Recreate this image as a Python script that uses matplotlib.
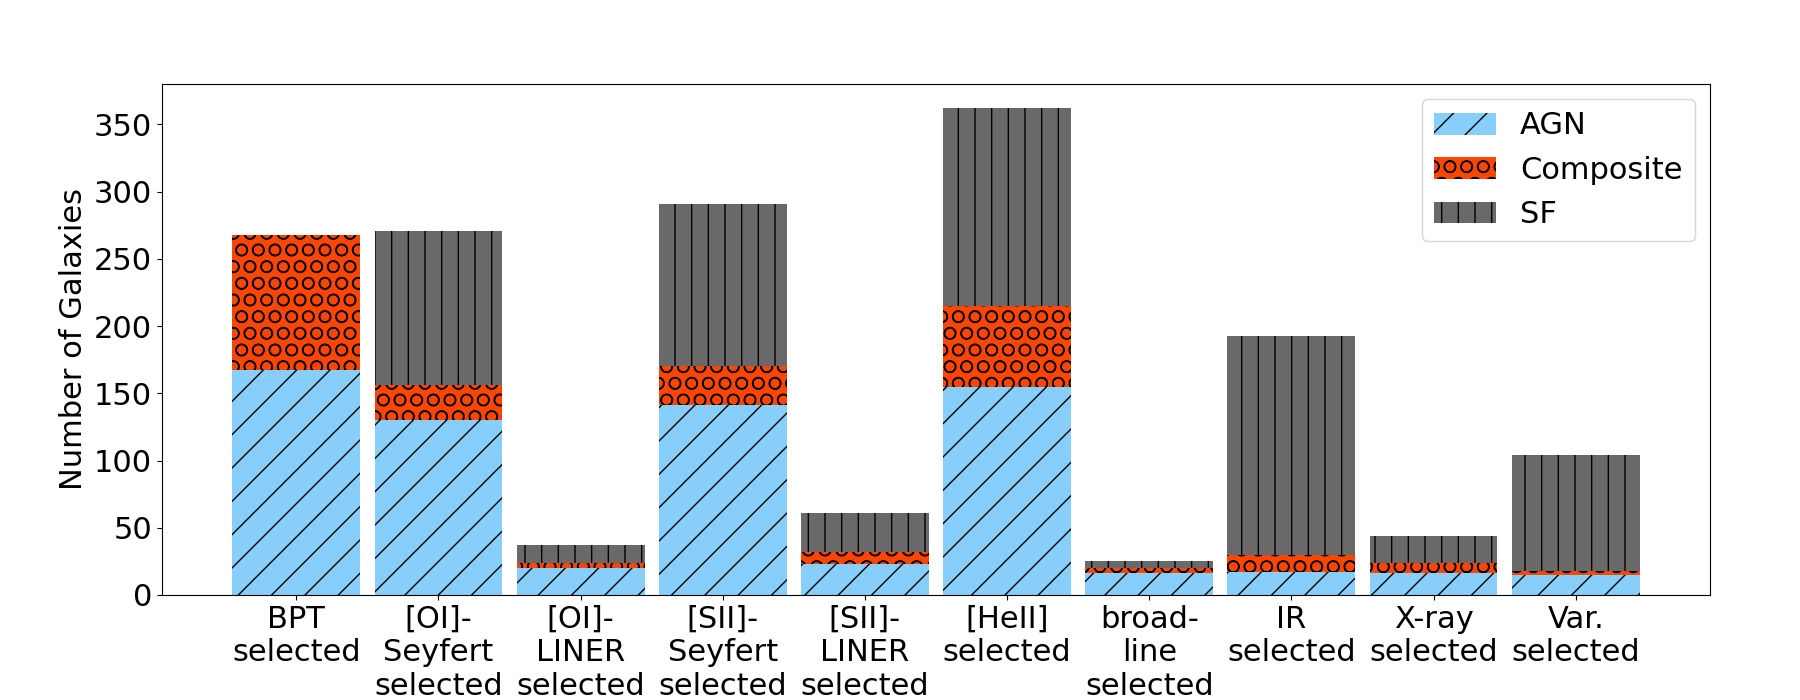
import numpy as np
import matplotlib
matplotlib.use("Agg")
import matplotlib.pyplot as plt

# Datos
categorias = ["BPT\nselected", "[OI]-\nSeyfert\nselected", "[OI]-\nLINER\nselected",
              "[SII]-\nSeyfert\nselected", "[SII]-\nLINER\nselected", "[HeII]\nselected",
              "broad-\nline\nselected", "IR\nselected", "X-ray\nselected", "Var.\nselected"]
agn = np.array([167, 130, 20, 141, 23, 155, 16, 17, 16, 15])
composite = np.array([101, 26, 4, 29, 9, 60, 4, 13, 8, 3])
sf = np.array([0, 115, 13, 121, 29, 147, 5, 163, 20, 86])

plt.rcParams["font.size"] = 22
plt.rcParams["hatch.color"] = "black"

fig, ax = plt.subplots(figsize=(18, 7), dpi=100)
fig.subplots_adjust(left=0.09, right=0.95, top=0.88, bottom=0.15)

x = np.arange(len(categorias))
ax.bar(x, agn, width=0.9, color="lightskyblue", hatch="/", edgecolor="black",
       linewidth=0, label="AGN")
ax.bar(x, composite, width=0.9, bottom=agn, color="orangered", hatch="O",
       edgecolor="black", linewidth=0, label="Composite")
ax.bar(x, sf, width=0.9, bottom=agn + composite, color="dimgray", hatch="|",
       edgecolor="black", linewidth=0, label="SF")

ax.set_xticks(x)
ax.set_xticklabels(categorias)
ax.set_yticks(np.arange(0, 351, 50))
ax.set_ylabel("Number of Galaxies")
ax.legend(loc="upper right")

plt.savefig("out.png")
